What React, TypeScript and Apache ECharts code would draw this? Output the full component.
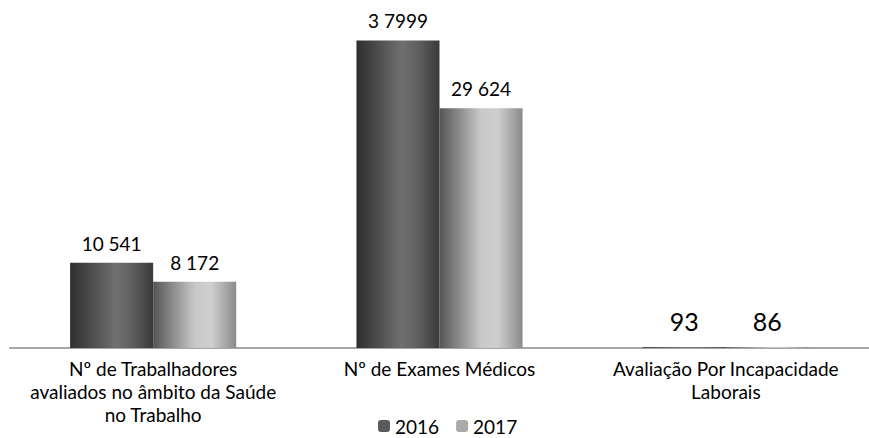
import React, { useEffect, useRef } from "react";
import * as echarts from "echarts";

const categories = [
  "Nº de Trabalhadores\navaliados no âmbito da Saúde\nno Trabalho",
  "Nº de Exames Médicos",
  "Avaliação Por Incapacidade\nLaborais",
];
const values2016 = [10541, 37999, 93];
const values2017 = [8172, 29624, 86];
const labels2016 = ["10 541", "3 7999", "93"];
const labels2017 = ["8 172", "29 624", "86"];
const seriesNames = ["2016", "2017"];

const FONT = "Lato, 'Open Sans', sans-serif";

function grad(stops: [number, string][]) {
  return new echarts.graphic.LinearGradient(
    0, 0, 1, 0,
    stops.map(([offset, color]) => ({ offset, color }))
  );
}

export default function App() {
  const ref = useRef<HTMLDivElement>(null);
  useEffect(() => {
    const chart = echarts.init(ref.current!, null, { renderer: "svg" });
    const mkData = (vals: number[], labels: string[]) =>
      vals.map((v, i) => ({
        value: v,
        label: {
          formatter: labels[i],
          fontSize: v < 1000 ? 25 : 19,
          distance: v < 1000 ? 14 : 10,
        },
      }));
    chart.setOption({
      animation: false,
      textStyle: { fontFamily: FONT },
      grid: { left: 10, right: 0, top: 0, bottom: 90 },
      legend: {
        left: 378,
        top: 416,
        padding: 0,
        itemWidth: 12,
        itemHeight: 12,
        itemGap: 17,
        itemTextGap: 5,
        textStyle: { fontSize: 19, lineHeight: 20, color: "#000", fontFamily: FONT },
        data: [
          { name: seriesNames[0], itemStyle: { color: "#5a5a5a" } },
          { name: seriesNames[1], itemStyle: { color: "#ababab" } },
        ],
      },
      xAxis: {
        type: "category",
        data: categories,
        axisLine: { lineStyle: { color: "#a6a6a6", width: 2 } },
        axisTick: { lineStyle: { color: "#a6a6a6", width: 1 }, length: 5 },
        axisLabel: {
          color: "#000",
          fontSize: 19,
          lineHeight: 23,
          margin: 9,
          fontFamily: FONT,
          interval: 0,
        },
      },
      yAxis: {
        type: "value",
        min: 0,
        max: 43000,
        show: false,
        splitLine: { show: false },
      },
      series: [
        {
          name: seriesNames[0],
          type: "bar",
          data: mkData(values2016, labels2016),
          barGap: "0%",
          barCategoryGap: "42%",
          itemStyle: {
            color: grad([
              [0, "#2e2e2e"],
              [0.55, "#707070"],
              [0.75, "#5e5e5e"],
              [1, "#3a3a3a"],
            ]),
          },
          label: {
            show: true,
            position: "top",
            color: "#000",
            fontFamily: FONT,
          },
        },
        {
          name: seriesNames[1],
          type: "bar",
          data: mkData(values2017, labels2017),
          itemStyle: {
            color: grad([
              [0, "#555555"],
              [0.5, "#c8c8c8"],
              [0.7, "#cfcfcf"],
              [1, "#8a8a8a"],
            ]),
          },
          label: {
            show: true,
            position: "top",
            color: "#000",
            fontFamily: FONT,
          },
        },
      ],
    });
    return () => chart.dispose();
  }, []);
  return (
    <div
      ref={ref}
      style={{ position: "fixed", left: 0, top: 0, width: 869, height: 438, background: "#fff" }}
    />
  );
}
